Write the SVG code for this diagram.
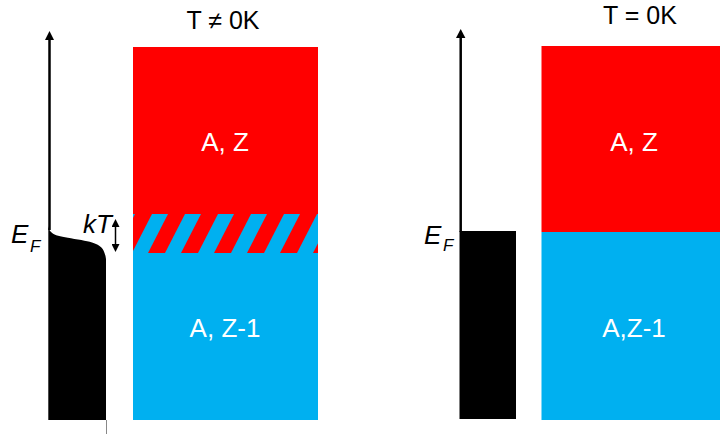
<svg xmlns="http://www.w3.org/2000/svg" width="720" height="434" viewBox="0 0 720 434">
<style>
.lbl{font-family:"Liberation Sans",Arial,sans-serif;font-size:26px;fill:#fff;text-anchor:middle}
.ttl{font-family:"Liberation Sans",Arial,sans-serif;font-size:25px;fill:#000;text-anchor:middle}
.it{font-family:"Liberation Sans",Arial,sans-serif;font-style:italic;fill:#000}
.red{fill:#FF0000}
.blue{fill:#00B0F0}
</style>
<defs>
<clipPath id="hc"><rect x="133" y="214" width="185" height="39"/></clipPath>
<marker id="ah" markerWidth="8" markerHeight="8" refX="4" refY="4" orient="auto-start-reverse" markerUnits="userSpaceOnUse" viewBox="0 0 8 8"><path d="M0,0 L8,4 L0,8 Z" fill="#000"/></marker>
</defs>
<g id="left-dos">
<line x1="49.5" y1="38" x2="49.5" y2="230" stroke="#000" stroke-width="2.5"/>
<path d="M49.5,31 L45,40 L54,40 Z" fill="#000"/>
<path d="M48.3,420 L48.3,226 C50,236 58,236 78,239.5 C98,243 104,245 106,259 L106,420 Z" fill="#000"/>
<line x1="106.5" y1="420" x2="106.5" y2="434" stroke="#888" stroke-width="1"/>
<text class="it" x="11" y="243" font-size="26">E</text>
<text class="it" x="30" y="252" font-size="17">F</text>
<text class="it" x="83" y="233" font-size="26">kT</text>
<line x1="115.5" y1="223" x2="115.5" y2="248" stroke="#000" stroke-width="1.5" marker-start="url(#ah)" marker-end="url(#ah)"/>
</g>
<g id="left-box">
<rect x="133" y="47" width="185" height="167" class="red"/>
<rect x="133" y="214" width="185" height="206" class="blue"/>
<g clip-path="url(#hc)" class="red">
<polygon points="115,253 132,253 152,214 135,214"/>
<polygon points="148,253 165,253 185,214 168,214"/>
<polygon points="181,253 198,253 218,214 201,214"/>
<polygon points="214,253 231,253 251,214 234,214"/>
<polygon points="247,253 264,253 284,214 267,214"/>
<polygon points="280,253 297,253 317,214 300,214"/>
<polygon points="313,253 330,253 350,214 333,214"/>
</g>
<text class="lbl" x="225" y="151">A, Z</text>
<text class="lbl" x="225" y="337">A, Z-1</text>
<text class="ttl" x="223" y="29">T ≠ 0K</text>
</g>
<g id="right-dos">
<line x1="460.7" y1="36" x2="460.7" y2="232" stroke="#000" stroke-width="2.5"/>
<path d="M460.7,29 L456,38 L465.4,38 Z" fill="#000"/>
<rect x="459.5" y="231" width="56.5" height="188" fill="#000"/>
<text class="it" x="424" y="244" font-size="26">E</text>
<text class="it" x="443" y="251" font-size="17">F</text>
</g>
<g id="right-box">
<rect x="541.5" y="46" width="178.5" height="186" class="red"/>
<rect x="541.5" y="232" width="178.5" height="188" class="blue"/>
<text class="lbl" x="634" y="151">A, Z</text>
<text class="lbl" x="634" y="337">A,Z-1</text>
<text class="ttl" x="640" y="24">T = 0K</text>
</g>
<g id="connectors"></g>
</svg>
